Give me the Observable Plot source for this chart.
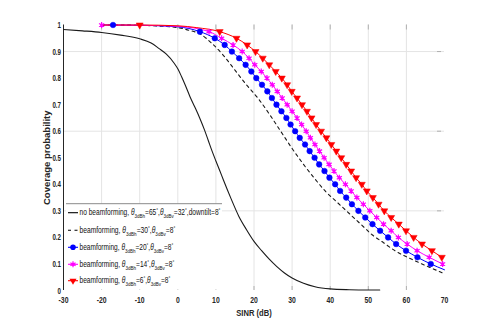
<!DOCTYPE html>
<html>
<head>
<meta charset="utf-8">
<script src="https://cdn.jsdelivr.net/npm/d3@7"></script>
<script src="https://cdn.jsdelivr.net/npm/@observablehq/plot@0.6"></script>
<style>
  html, body { margin: 0; padding: 0; background: #fff; }
  svg { display: block; }
</style>
</head>
<body>
<script>
// ---------- data ----------
const xTicks = [-30, -20, -10, 0, 10, 20, 30, 40, 50, 60, 70];
const yTicks = [0, 0.1, 0.2, 0.3, 0.4, 0.5, 0.6, 0.7, 0.8, 0.9, 1];
const yGrid = [0.3, 0.6, 0.9];
const xGrid = [-20, -10, 0, 10, 20, 30, 40, 50, 60];

// coverage probability levels at which the marked curves are sampled
const probLevels = [0.975, 0.95, 0.925, 0.9, 0.875, 0.85, 0.825, 0.8, 0.775, 0.75, 0.725, 0.7,
  0.675, 0.65, 0.625, 0.6, 0.575, 0.55, 0.525, 0.5, 0.475, 0.45, 0.425, 0.4, 0.375, 0.35,
  0.325, 0.3, 0.275, 0.25, 0.225, 0.2, 0.175, 0.15, 0.125, 0.1];

// no beamforming (black solid)
const noBfX = [-30, -25, -20, -15, -10, -7, -5, -3, -1, 0, 1, 2, 3.2, 4.5, 5.8, 7, 8, 9, 10, 11, 12, 14, 16, 18, 20, 22, 24, 26, 28, 30, 33, 36, 40, 45, 50, 53];
const noBfY = [0.983, 0.978, 0.972, 0.962, 0.948, 0.932, 0.912, 0.89, 0.857, 0.835, 0.805, 0.772, 0.73, 0.69, 0.648, 0.605, 0.565, 0.525, 0.488, 0.452, 0.415, 0.345, 0.28, 0.23, 0.185, 0.15, 0.118, 0.09, 0.066, 0.047, 0.027, 0.014, 0.006, 0.003, 0.002, 0.002];

// beamforming 30deg (black dashed)
const bf30X = [-20, -10, -5, 0, 3, 6, 9, 12, 15, 18, 21, 24, 27, 30, 33, 36, 39, 42, 45, 48, 51, 54, 57, 60, 63, 66, 70];
const bf30Y = [1.0, 0.999, 0.996, 0.99, 0.98, 0.965, 0.93, 0.885, 0.83, 0.775, 0.725, 0.665, 0.60, 0.535, 0.475, 0.42, 0.37, 0.33, 0.29, 0.25, 0.21, 0.18, 0.15, 0.127, 0.107, 0.088, 0.063];

// beamforming 20deg (blue, circles)
const bf20HeadX = [-20, -17, -10, 0];
const bf20HeadY = [1, 1, 0.999, 0.993];
const bf20X = [5.8, 9.7, 12.3, 14.2, 16.1, 17.8, 19.3, 20.6, 22.1, 23.5, 24.7, 25.9, 27.2, 28.5, 29.6, 30.8,
  32.0, 33.4, 34.6, 35.9, 37.1, 38.5, 39.8, 41.3, 42.6, 44.2, 45.7, 47.4, 49.2, 51.1, 53.1, 55.2, 57.3, 59.9, 62.9, 66.4];
const bf20TailX = [70];
const bf20TailY = [0.078];

// beamforming 14deg (magenta, asterisks)
const bf14HeadX = [-20, -10, 0];
const bf14HeadY = [1, 0.999, 0.995];
const bf14X = [8.2, 11.5, 14.5, 16.9, 18.7, 20.2, 21.9, 23.4, 24.8, 26.1, 27.4, 28.7, 30.0, 31.3, 32.5, 33.7,
  34.8, 36.0, 37.2, 38.4, 39.7, 41.0, 42.4, 44.0, 45.5, 47.0, 48.7, 50.4, 52.2, 54.0, 56.0, 57.9, 60.2, 62.8, 66.0, 69.5];

// beamforming 6deg (red, down triangles)
const bf6HeadX = [-20, -10, 0, 5];
const bf6HeadY = [1, 1, 0.997, 0.99];
const bf6X = [11.0, 15.4, 18.2, 20.4, 22.3, 24.0, 25.7, 27.3, 28.7, 29.9, 31.3, 32.6, 33.9, 35.1, 36.3, 37.6,
  39.0, 40.3, 41.6, 42.9, 44.2, 45.5, 46.8, 48.3, 49.6, 51.2, 52.7, 54.2, 56.0, 58.0, 59.9, 61.9, 64.1, 66.7, 69.3];

// legend
const legendHbw = [65, 30, 20, 14, 6];
const legendVbw = [32, 8, 8, 8, 8];
const seriesColors = ["#000000", "#000000", "#0000ff", "#ff00ff", "#ff0000"];

// ---------- build tables ----------
const zip = (xs, ys) => xs.map((x, i) => ({x, y: ys[i]}));
const noBf = zip(noBfX, noBfY);
const bf30 = zip(bf30X, bf30Y);
const bf20Pts = zip(bf20X, probLevels.slice(0, bf20X.length));
const bf14Pts = zip(bf14X, probLevels.slice(0, bf14X.length));
const bf6Pts = zip(bf6X, probLevels.slice(0, bf6X.length));
const bf20Line = [...zip(bf20HeadX, bf20HeadY), ...bf20Pts, ...zip(bf20TailX, bf20TailY)];
const bf14Line = [...zip(bf14HeadX, bf14HeadY), ...bf14Pts];
const bf6Line = [...zip(bf6HeadX, bf6HeadY), ...bf6Pts];
const bf20Marks = [{x: -17, y: 1}, ...bf20Pts];
const bf14Marks = [{x: -20, y: 1}, ...bf14Pts];
const bf6Marks = [{x: -10, y: 1}, ...bf6Pts];

const triangleDown = {
  draw(context, size) {
    const a = Math.sqrt(size * 4 / Math.sqrt(3));
    const h = a * Math.sqrt(3) / 2;
    context.moveTo(-a / 2, -h / 3);
    context.lineTo(a / 2, -h / 3);
    context.lineTo(0, 2 * h / 3);
    context.closePath();
  }
};

const FONT = "'Liberation Sans',Arial,sans-serif";
const W = 491, H = 327;
const mL = 63, mR = 47, mT = 24.5, mB = 37;
const plotW = W - mL - mR, plotH = H - mT - mB;

const svg = Plot.plot({
  width: W,
  height: H,
  marginLeft: mL,
  marginRight: mR,
  marginTop: mT,
  marginBottom: mB,
  style: {fontFamily: FONT, fontSize: "9.5px", color: "#262626", background: "#fff", overflow: "visible"},
  x: {domain: [-30, 70]},
  y: {domain: [0, 1]},
  marks: [
    Plot.gridX(xGrid, {stroke: "#e4e4e4", strokeOpacity: 1}),
    Plot.gridY(yGrid, {stroke: "#e4e4e4", strokeOpacity: 1}),
    Plot.tickX(xGrid, {x: d => d, stroke: "#b0b0b0", insetBottom: plotH - 5}),
    Plot.tickX(xGrid, {x: d => d, stroke: "#b0b0b0", insetTop: plotH - 4}),
    Plot.tickY(yGrid, {y: d => d, stroke: "#b0b0b0", insetLeft: plotW - 7, insetRight: 3}),
    Plot.axisX(xTicks, {tickSize: 0, tickPadding: 6, fontWeight: "bold", tickFormat: d => String(d),
      label: "SINR (dB)", labelAnchor: "center", labelOffset: 25, labelArrow: "none"}),
    Plot.axisY(yTicks, {tickSize: 0, tickPadding: 2.5, fontWeight: "bold", tickFormat: d => String(d),
      label: "Coverage probability", labelAnchor: "center", labelOffset: 20, labelArrow: "none"}),
    Plot.ruleX([-30], {stroke: "#262626", strokeWidth: 1}),
    Plot.line(noBf, {x: "x", y: "y", stroke: "#1a1a1a", strokeWidth: 1.1, curve: "monotone-x"}),
    Plot.line(bf30, {x: "x", y: "y", stroke: "#1a1a1a", strokeWidth: 1.1, strokeDasharray: "3,3.5", curve: "monotone-x"}),
    Plot.line(bf20Line, {x: "x", y: "y", stroke: "#0000ff", strokeWidth: 1, curve: "monotone-x"}),
    Plot.line(bf14Line, {x: "x", y: "y", stroke: "#ff00ff", strokeWidth: 1, curve: "monotone-x"}),
    Plot.line(bf6Line, {x: "x", y: "y", stroke: "#ff0000", strokeWidth: 1, curve: "monotone-x"}),
    Plot.dot(bf20Marks, {x: "x", y: "y", r: 2.8, fill: "#0000ff", stroke: "#0000ff", strokeWidth: 0.5}),
    Plot.dot(bf14Marks, {x: "x", y: "y", r: 1.6, fill: "#ff00ff"}),
    Plot.dot(bf14Marks, {x: "x", y: "y", r: 2.8, symbol: "asterisk", stroke: "#ff00ff", strokeWidth: 1.2}),
    Plot.dot(bf6Marks, {x: "x", y: "y", r: 2.6, symbol: triangleDown, fill: "#ff0000", stroke: "#ff0000", strokeWidth: 0.5})
  ]
});
document.body.appendChild(svg);

// condense axis texts horizontally (the reference uses a narrow face)
function condense(sel, s) {
  d3.select(svg).selectAll(sel).each(function () {
    const el = d3.select(this);
    const tr = el.attr("transform");
    if (tr) {
      el.attr("transform", tr + ` scale(${s},1)`);
    } else {
      const x = +el.attr("x") || 0, y = +el.attr("y") || 0;
      el.attr("x", null).attr("y", null).attr("transform", `translate(${x},${y}) scale(${s},1)`);
    }
  });
}
condense("g[aria-label='x-axis tick label'] text", 0.72);
condense("g[aria-label='y-axis tick label'] text", 0.65);
condense("g[aria-label='x-axis label'] text", 0.8);

// ---------- legend ----------
const lg = d3.select(svg).append("g").attr("font-family", FONT).attr("text-anchor", "start");
const boxX = mL + 3, boxRight = 222, boxTop = 203.7;
lg.append("rect").attr("x", boxX).attr("y", boxTop).attr("width", boxRight - boxX).attr("height", mT + plotH - boxTop - 0.5).attr("fill", "#fff");
lg.append("line").attr("x1", boxX).attr("x2", boxRight).attr("y1", boxTop).attr("y2", boxTop).attr("stroke", "#8a8a8a").attr("stroke-width", 1);

const rowY = [212.7, 230.2, 247.3, 264.3, 280.7];
const targetW = [141, 96, 94, 95, 91];
legendHbw.forEach((hb, i) => {
  const y = rowY[i];
  const c = seriesColors[i];
  const row = lg.append("g");
  const ln = row.append("line").attr("x1", 68).attr("x2", 78).attr("y1", y).attr("y2", y).attr("stroke", c).attr("stroke-width", 1.1);
  if (i === 1) ln.attr("stroke-dasharray", "3,3.5");
  const mk = row.append("path").attr("transform", `translate(73,${y})`);
  if (i === 2) mk.attr("d", d3.symbol(d3.symbolCircle, Math.PI * 2.8 * 2.8)()).attr("fill", c);
  if (i === 3) {
    row.append("circle").attr("cx", 73).attr("cy", y).attr("r", 1.6).attr("fill", c);
    mk.attr("d", d3.symbol(d3.symbolAsterisk, Math.PI * 2.8 * 2.8)()).attr("stroke", c).attr("stroke-width", 1.2).attr("fill", "none");
  }
  if (i === 4) mk.attr("d", d3.symbol(triangleDown, Math.PI * 2.6 * 2.6)()).attr("fill", c);

  const tg = row.append("g");
  const t = tg.append("text").attr("x", 0).attr("y", 0).attr("dy", "0.32em").attr("font-size", 8.5).attr("fill", "#111");
  const parts = [];
  parts.push({s: (i === 0 ? "no beamforming, " : "beamforming, ")});
  parts.push({s: "θ", it: true});
  parts.push({s: "3dBh", sub: true});
  parts.push({s: "=" + hb});
  parts.push({s: "°", sup: true});
  parts.push({s: ","});
  parts.push({s: "θ", it: true});
  parts.push({s: "3dBv", sub: true});
  parts.push({s: "=" + legendVbw[i]});
  parts.push({s: "°", sup: true});
  if (i === 0) { parts.push({s: ",downtilt=8"}); parts.push({s: "°", sup: true}); }
  let shift = 0;
  parts.forEach(p => {
    const ts = t.append("tspan").text(p.s);
    let target = 0;
    if (p.sub) { target = 2.6; ts.attr("font-size", 5.8); }
    if (p.sup) { target = -3; ts.attr("font-size", 5.8); }
    if (p.it) ts.attr("font-style", "italic");
    if (target !== shift) { ts.attr("dy", target - shift); shift = target; }
  });
  const natural = t.node().getComputedTextLength();
  const s = natural > 0 ? targetW[i] / natural : 1;
  tg.attr("transform", `translate(79.5,${y}) scale(${s},1)`);
});
</script>
</body>
</html>
